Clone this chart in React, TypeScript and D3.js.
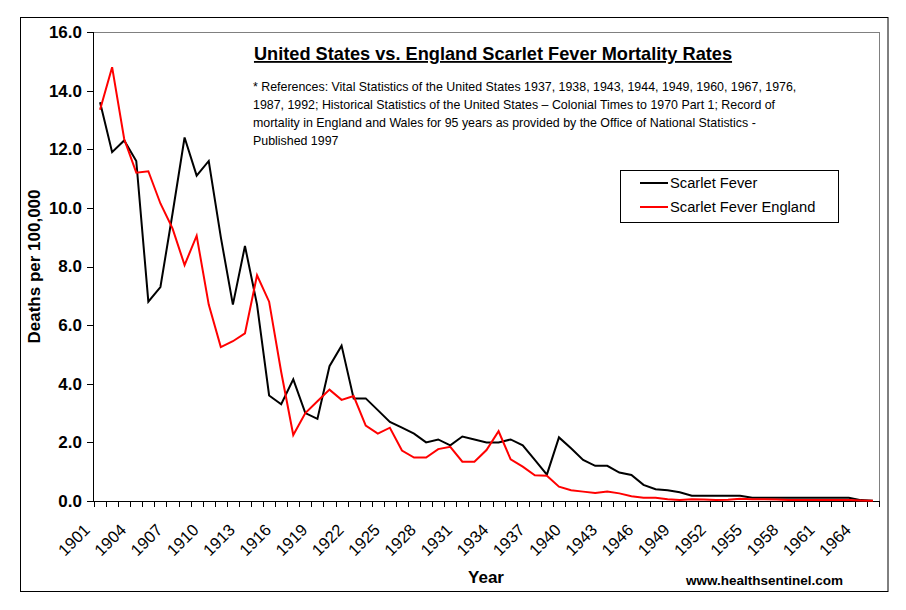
import React from "react";
import * as d3 from "d3";

const years: number[] = d3.range(1901, 1966);
const tickLabels: number[] = [1901, 1904, 1907, 1910, 1913, 1916, 1919, 1922, 1925, 1928, 1931, 1934, 1937, 1940, 1943, 1946, 1949, 1952, 1955, 1958, 1961, 1964];
const yTicks: number[] = [0, 2, 4, 6, 8, 10, 12, 14, 16];

const usValues: number[] = [
  13.6, 11.9, 12.3, 11.6, 6.8, 7.3, 9.8, 12.4, 11.1, 11.6,
  9.0, 6.7, 8.7, 6.7, 3.6, 3.3, 4.15, 3.0, 2.8, 4.6,
  5.3, 3.5, 3.5, 3.1, 2.7, 2.5, 2.3, 2.0, 2.1, 1.9,
  2.2, 2.1, 2.0, 2.0, 2.1, 1.9, 1.4, 0.9, 2.17, 1.8,
  1.4, 1.2, 1.2, 0.97, 0.89, 0.55, 0.4, 0.37, 0.3, 0.18,
  0.18, 0.18, 0.18, 0.18, 0.11, 0.11, 0.11, 0.11, 0.11, 0.11,
  0.11, 0.11, 0.11, 0.03, 0.01,
];

const englandValues: number[] = [
  13.35, 14.8, 12.35, 11.2, 11.25, 10.15, 9.3, 8.05, 9.05, 6.7,
  5.25, 5.45, 5.72, 7.7, 6.8, 4.4, 2.25, 3.0, 3.4, 3.8,
  3.45, 3.58, 2.57, 2.3, 2.5, 1.72, 1.48, 1.48, 1.77, 1.85,
  1.34, 1.34, 1.74, 2.38, 1.42, 1.17, 0.88, 0.86, 0.49, 0.37,
  0.32, 0.27, 0.32, 0.26, 0.16, 0.11, 0.11, 0.06, 0.03, 0.06,
  0.05, 0.03, 0.04, 0.08, 0.06, 0.06, 0.05, 0.03, 0.03, 0.03,
  0.03, 0.03, 0.03, 0.02, 0.01,
];

const seriesNames: string[] = ["Scarlet Fever", "Scarlet Fever England"];
const seriesColors: string[] = ["#000000", "#ff0000"];

const titleText = "United States vs. England Scarlet Fever Mortality Rates";
const refLines: string[] = [
  "* References: Vital Statistics of the United States 1937, 1938, 1943, 1944, 1949, 1960, 1967, 1976,",
  "1987, 1992; Historical Statistics of the United States \u2013 Colonial Times to 1970 Part 1; Record of",
  "mortality in England and Wales for 95 years as provided by the Office of National Statistics -",
  "Published 1997",
];

const FONT = "Arial, 'Liberation Sans', sans-serif";

export default function App() {
  const W = 906, H = 610;
  const left = 94, right = 879, top = 32, bottom = 501;

  const x = d3.scaleBand<number>().domain(years).range([left, right]).paddingInner(0).paddingOuter(0);
  const bw = x.bandwidth();
  const cx = (yr: number) => (x(yr) as number) + bw / 2;
  const y = d3.scaleLinear().domain([0, 16]).range([bottom, top]);

  const data = [usValues, englandValues];
  const line = d3
    .line<number>()
    .x((_, i) => cx(years[i]))
    .y((v) => y(v));

  const boundaries = d3.range(years.length + 1).map((i) => left + i * bw);

  return (
    <svg width={W} height={H} style={{ position: "absolute", left: 0, top: 0, background: "#fff" }} fontFamily={FONT}>
      <rect x={0} y={0} width={W} height={H} fill="#fff" />
      {/* outer chart border */}
      <rect x={20.5} y={17.5} width={867.5} height={574} fill="none" stroke="#000" strokeWidth={1} />

      {/* plot area border (gray top/right) */}
      <line x1={left} y1={top + 0.5} x2={right} y2={top + 0.5} stroke="#808080" strokeWidth={1} />
      <line x1={right + 0.5} y1={top} x2={right + 0.5} y2={bottom} stroke="#808080" strokeWidth={1} />

      {/* y axis */}
      <line x1={left - 0.5} y1={top} x2={left - 0.5} y2={bottom} stroke="#000" strokeWidth={1} />
      {yTicks.map((t) => (
        <g key={"yt" + t}>
          <line x1={left - 7} x2={left} y1={Math.round(y(t)) + 0.5} y2={Math.round(y(t)) + 0.5} stroke="#000" />
          <text x={left - 12} y={y(t)} dy="0.35em" textAnchor="end" fontSize={17} fontWeight="bold" fill="#000">
            {t.toFixed(1)}
          </text>
        </g>
      ))}
      <text
        transform={`translate(40, ${(top + bottom) / 2}) rotate(-90)`}
        textAnchor="middle"
        fontSize={17}
        fontWeight="bold"
        fill="#000"
      >
        Deaths per 100,000
      </text>

      {/* x axis */}
      <line x1={left} y1={bottom + 0.5} x2={right} y2={bottom + 0.5} stroke="#000" strokeWidth={1} />
      {boundaries.map((bx, i) => (
        <line key={"xt" + i} x1={Math.round(bx) + 0.5} x2={Math.round(bx) + 0.5} y1={bottom} y2={bottom + 6} stroke="#000" />
      ))}
      {tickLabels.map((yr) => (
        <text
          key={"xl" + yr}
          transform={`translate(${cx(yr) - 9}, ${bottom + 30}) rotate(-45)`}
          textAnchor="end"
          fontSize={16.5}
          fill="#000"
        >
          {yr}
        </text>
      ))}
      <text x={486} y={583} textAnchor="middle" fontSize={17} fontWeight="bold" fill="#000">
        Year
      </text>
      <text x={686} y={585} fontSize={13.5} fontWeight="bold" fill="#000">
        www.healthsentinel.com
      </text>

      {/* series */}
      {data.map((vals, si) => (
        <path key={"s" + si} d={line(vals) || ""} fill="none" stroke={seriesColors[si]} strokeWidth={2} strokeLinejoin="miter" />
      ))}

      {/* title */}
      <text x={493} y={60} textAnchor="middle" fontSize={18.2} fontWeight="bold" fill="#000" textDecoration="underline">
        {titleText}
      </text>
      {refLines.map((t, i) => (
        <text key={"r" + i} x={253} y={91 + i * 18} fontSize={12.4} fill="#000">
          {t}
        </text>
      ))}

      {/* legend */}
      <rect x={620.5} y={170.5} width={218} height={52} fill="#fff" stroke="#000" strokeWidth={1} />
      {seriesNames.map((n, i) => (
        <g key={"lg" + i}>
          <line x1={640} x2={668} y1={183 + i * 24} y2={183 + i * 24} stroke={seriesColors[i]} strokeWidth={2} />
          <text x={670} y={183 + i * 24} dy="0.35em" fontSize={14.7} fill="#000">
            {n}
          </text>
        </g>
      ))}
    </svg>
  );
}
